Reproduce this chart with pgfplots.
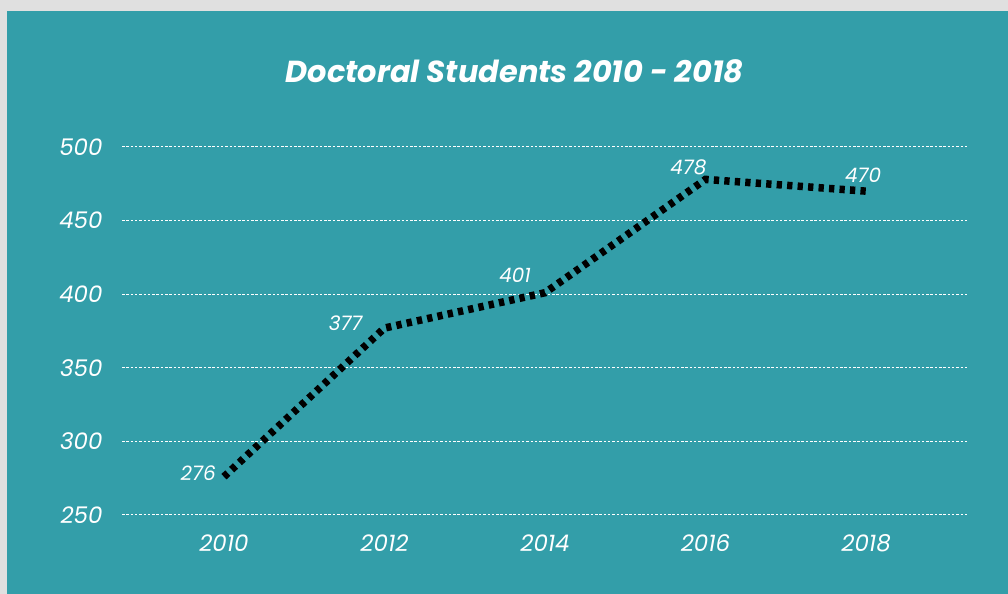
\documentclass[border=0pt]{standalone}
\usepackage{fontspec}
\setmainfont{Poppins}
\usepackage{pgfplots}
\pgfplotsset{compat=1.18}
\definecolor{bgteal}{HTML}{339EA9}
\definecolor{bggray}{HTML}{E0E0E0}
\begin{document}
\begin{tikzpicture}
\fill[bggray] (0,0) rectangle (1008bp,594bp);
\fill[bgteal] (7bp,0) rectangle (1008bp,583bp);
\node[anchor=base, text=white, font=\fontsize{30.5}{30}\selectfont\bfseries\itshape] at (514.5bp,511bp) {Doctoral Students 2010 - 2018};
\begin{axis}[
  at={(122bp,79bp)}, anchor=south west,
  scale only axis, width=846bp, height=368bp,
  xmin=2008.73, xmax=2019.27, ymin=250, ymax=500,
  clip=false,
  axis line style={draw=none},
  tick style={draw=none},
  major tick length=0pt,
  xtick={2010,2012,2014,2016,2018},
  ytick={250,300,350,400,450,500},
  ymajorgrids,
  grid style={white, line width=1bp, dash pattern=on 2.5bp off 1.8bp},
  /pgf/number format/assume math mode=true,
  /pgf/number format/1000 sep={},
  ticklabel style={text=white, font=\fontsize{23}{23}\selectfont\itshape},
  yticklabel style={anchor=east, xshift=-16bp},
  xticklabel style={anchor=north, yshift=-16bp},
]
\addplot[black, line width=7.5bp, dash pattern=on 5.3bp off 5.2bp] coordinates {
  (2010,276) (2012,377) (2014,401) (2016,478) (2018,470)
};
\begin{scope}[every node/.style={text=white, font=\fontsize{20}{20}\selectfont\itshape, inner sep=0pt}]
\node[anchor=east] at ([xshift=-8bp,yshift=4bp]axis cs:2010,276) {276};
\node[anchor=east] at ([xshift=-22bp,yshift=5bp]axis cs:2012,377) {377};
\node[anchor=south east] at ([xshift=-14bp,yshift=10bp]axis cs:2014,401) {401};
\node[anchor=south east] at ([xshift=1bp,yshift=4bp]axis cs:2016,478) {478};
\node[anchor=south] at ([xshift=-3bp,yshift=8bp]axis cs:2018,470) {470};
\end{scope}
\end{axis}
\pgfresetboundingbox
\useasboundingbox (0,0) rectangle (1008bp,594bp);
\end{tikzpicture}
\end{document}
